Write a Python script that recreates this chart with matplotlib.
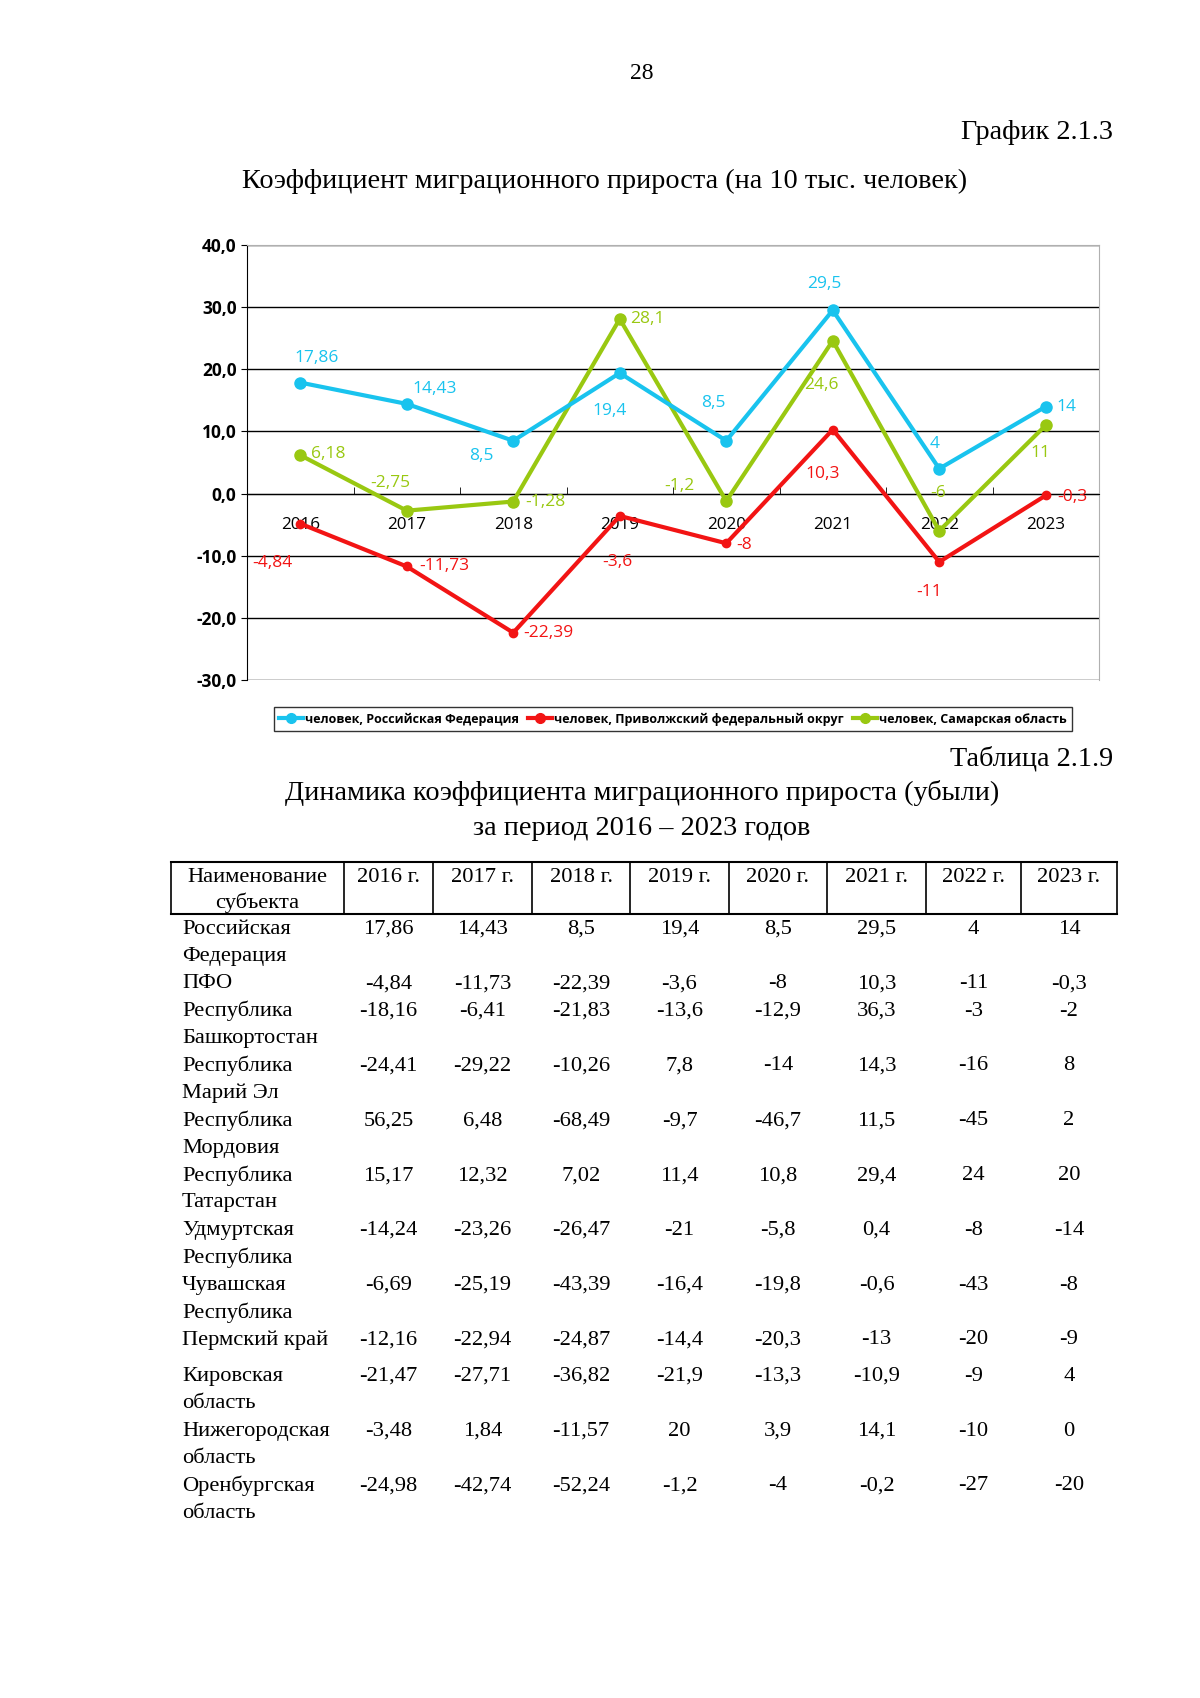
import matplotlib.pyplot as plt
from matplotlib.lines import Line2D

# --- data ---
years = ["2016", "2017", "2018", "2019", "2020", "2021", "2022", "2023"]
rf = [17.86, 14.43, 8.5, 19.4, 8.5, 29.5, 4, 14]
pfo = [-4.84, -11.73, -22.39, -3.6, -8, 10.3, -11, -0.3]
samara = [6.18, -2.75, -1.28, 28.1, -1.2, 24.6, -6, 11]
series_names = ["человек, Российская Федерация",
                "человек, Приволжский федеральный округ",
                "человек, Самарская область"]

table_head = ["Наименование\nсубъекта", "2016 г.", "2017 г.", "2018 г.", "2019 г.",
              "2020 г.", "2021 г.", "2022 г.", "2023 г."]
row_names = ["Российская\nФедерация", "ПФО", "Республика\nБашкортостан",
             "Республика\nМарий Эл", "Республика\nМордовия", "Республика\nТатарстан",
             "Удмуртская\nРеспублика", "Чувашская\nРеспублика", "Пермский край",
             "Кировская\nобласть", "Нижегородская\nобласть", "Оренбургская\nобласть"]
row_values = [
    ["17,86", "14,43", "8,5", "19,4", "8,5", "29,5", "4", "14"],
    ["-4,84", "-11,73", "-22,39", "-3,6", "-8", "10,3", "-11", "-0,3"],
    ["-18,16", "-6,41", "-21,83", "-13,6", "-12,9", "36,3", "-3", "-2"],
    ["-24,41", "-29,22", "-10,26", "7,8", "-14", "14,3", "-16", "8"],
    ["56,25", "6,48", "-68,49", "-9,7", "-46,7", "11,5", "-45", "2"],
    ["15,17", "12,32", "7,02", "11,4", "10,8", "29,4", "24", "20"],
    ["-14,24", "-23,26", "-26,47", "-21", "-5,8", "0,4", "-8", "-14"],
    ["-6,69", "-25,19", "-43,39", "-16,4", "-19,8", "-0,6", "-43", "-8"],
    ["-12,16", "-22,94", "-24,87", "-14,4", "-20,3", "-13", "-20", "-9"],
    ["-21,47", "-27,71", "-36,82", "-21,9", "-13,3", "-10,9", "-9", "4"],
    ["-3,48", "1,84", "-11,57", "20", "3,9", "14,1", "-10", "0"],
    ["-24,98", "-42,74", "-52,24", "-1,2", "-4", "-0,2", "-27", "-20"],
]

# label offsets (points) for data labels
off_rf = [(12, 18), (20, 11), (-23, -11), (-7, -27), (-9, 27), (-6, 19), (-3, 18), (15, 0)]
off_pfo = [(-20, -28), (27, 0), (25, 0), (-2, -33), (13, -1), (-7, -32), (-7, -22), (19, -1)]
off_sam = [(20, 1), (-12, 20), (23, 0), (20, 0), (-34, 11), (-8, -32), (-1, 27), (-4, -20)]

W, H = 1200, 1698
fig = plt.figure(figsize=(W / 100, H / 100), dpi=100)
serif = "Liberation Serif"
sans = "Open Sans"

# page layer in pixel coords
pg = fig.add_axes([0, 0, 1, 1])
pg.set_xlim(0, W)
pg.set_ylim(H, 0)
pg.axis("off")

big = 20.3
pg.text(642, 73, "28", family=serif, fontsize=17, ha="center", va="center")
pg.text(1113, 132, "График 2.1.3", family=serif, fontsize=big, ha="right", va="center")
pg.text(605, 181, "Коэффициент миграционного прироста (на 10 тыс. человек)",
        family=serif, fontsize=big, ha="center", va="center")

# --- chart ---
ax = fig.add_axes([247 / W, 1 - 680 / H, 852 / W, 435 / H])
x = list(range(len(years)))
colors = ["#19C3EE", "#F21414", "#99C811"]
ax.plot(x, rf, color=colors[0], lw=3, marker="o", ms=8, zorder=4)
ax.plot(x, pfo, color=colors[1], lw=3, marker="o", ms=6, zorder=3)
ax.plot(x, samara, color=colors[2], lw=3, marker="o", ms=8, zorder=3)

for vals, offs, c in [(rf, off_rf, colors[0]), (pfo, off_pfo, colors[1]), (samara, off_sam, colors[2])]:
    for i, v in enumerate(vals):
        ax.annotate(f"{v:g}".replace(".", ","), (i, v), xytext=offs[i], textcoords="offset points",
                    ha="center", va="center", color=c, fontsize=12.5, family=sans, zorder=5)

ax.set_xlim(-0.5, 7.5)
ax.set_ylim(-30, 40)
ax.set_yticks(range(-30, 41, 10))
ax.set_yticklabels([f"{t:.1f}".replace(".", ",") for t in range(-30, 41, 10)],
                   fontweight="bold", family=sans, fontsize=12.5)
ax.yaxis.grid(True, color="black", lw=1)
ax.set_axisbelow(True)
ax.spines["left"].set_color("black")
ax.spines["top"].set_color("#B0B0B0")
ax.spines["right"].set_color("#B0B0B0")
ax.spines["bottom"].set_position(("data", 0))
ax.spines["bottom"].set_color("black")
ax.set_xticks(x)
ax.set_xticklabels(years, family=sans, fontsize=12.3)
ax.tick_params(axis="x", length=0, pad=17)
ax.set_xticks([i + 0.5 for i in x[:-1]], minor=True)
ax.tick_params(axis="x", which="minor", direction="in", length=5)
ax.tick_params(axis="y", length=4)

handles = [Line2D([], [], color=c, lw=3, marker="o", ms=7) for c in colors]
leg = fig.legend(handles, series_names, loc="center", bbox_to_anchor=(673 / W, 1 - 719 / H),
                 ncol=3, prop={"family": sans, "weight": "bold", "size": 9.0},
                 frameon=True, fancybox=False, edgecolor="black", handlelength=1.9,
                 handletextpad=0.2, columnspacing=0.7, borderpad=0.45)
leg.get_frame().set_linewidth(1)

# --- table ---
pg.text(1113, 759, "Таблица 2.1.9", family=serif, fontsize=big, ha="right", va="center")
pg.text(642, 793, "Динамика коэффициента миграционного прироста (убыли)",
        family=serif, fontsize=big, ha="center", va="center")
pg.text(642, 828, "за период 2016 – 2023 годов", family=serif, fontsize=big,
        ha="center", va="center")

cols = [171, 344, 433, 532, 630, 729, 827, 926, 1021, 1117]
top, bot = 862, 914
pg.plot([cols[0], cols[-1]], [top, top], color="black", lw=1.5)
pg.plot([cols[0], cols[-1]], [bot, bot], color="black", lw=1.5)
for cx in cols:
    pg.plot([cx, cx], [top, bot], color="black", lw=1.2)

tsize = 16.2
line_h = 27.4
pg.text((cols[0] + cols[1]) / 2, 877, "Наименование", family=serif, fontsize=tsize, ha="center", va="center")
pg.text((cols[0] + cols[1]) / 2, 903, "субъекта", family=serif, fontsize=tsize, ha="center", va="center")
for j, h in enumerate(table_head[1:]):
    pg.text((cols[j + 1] + cols[j + 2]) / 2, 877, h, family=serif, fontsize=tsize, ha="center", va="center")

y = 929
for name, vals in zip(row_names, row_values):
    lines = name.split("\n")
    for k, ln in enumerate(lines):
        pg.text(182, y + k * line_h, ln, family=serif, fontsize=tsize, ha="left", va="center")
    for j, v in enumerate(vals):
        pg.text((cols[j + 1] + cols[j + 2]) / 2, y, v, family=serif, fontsize=tsize, ha="center", va="center")
    y += len(lines) * line_h
    if name == "Пермский край":
        y += 9

fig.savefig("out.png", dpi=100)
